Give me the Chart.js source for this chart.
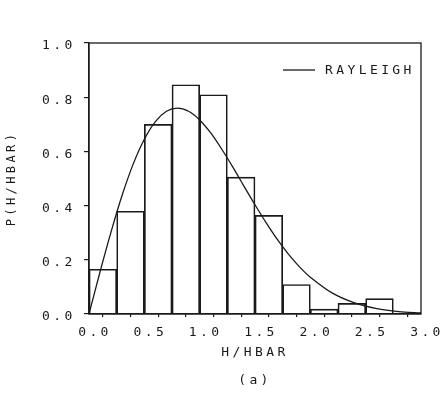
<!DOCTYPE html>
<html>
<head>
<meta charset="utf-8">
<script src="https://cdn.jsdelivr.net/npm/chart.js@4.4.0/dist/chart.umd.min.js"></script>
<style>
  html, body { margin: 0; padding: 0; background: #fff; }
  #wrap { width: 440px; height: 406px; }
</style>
</head>
<body>
<div id="wrap"><canvas id="histChart"></canvas></div>
<script>
// Histogram bins (centres of 0.25 wide bins) and measured probabilities
const binCentres = [0.125, 0.375, 0.625, 0.875, 1.125, 1.375, 1.625, 1.875, 2.125, 2.375, 2.625];
const binValues = [0.165, 0.379, 0.70, 0.846, 0.809, 0.505, 0.364, 0.109, 0.018, 0.039, 0.057];

// Rayleigh curve
const curveX = [0, 0.1, 0.2, 0.3, 0.4, 0.5, 0.6, 0.7, 0.8, 0.9, 1.0, 1.1, 1.2, 1.3, 1.4, 1.5,
  1.6, 1.7, 1.8, 1.9, 2.0, 2.2, 2.4, 2.6, 2.8, 3.0];
const curveY = [0, 0.156, 0.304, 0.439, 0.554, 0.645, 0.710, 0.748, 0.760, 0.748, 0.716, 0.668,
  0.608, 0.542, 0.472, 0.403, 0.337, 0.276, 0.222, 0.175, 0.136, 0.077, 0.041, 0.020, 0.009, 0.004];

const yTicks = [0, 0.2, 0.4, 0.6, 0.8, 1.0];
const xTickLabels = [0, 0.5, 1.0, 1.5, 2.0, 2.5, 3.0];

const ink = '#1a1a1a';
const monoFont = { family: 'DejaVu Sans Mono', size: 13 };
const spacing = '3.4px';

// letter spacing to mimic the plotter lettering
const spacingPlugin = {
  id: 'spacing',
  beforeUpdate(chart) { chart.ctx.letterSpacing = spacing; },
  beforeDraw(chart) { chart.ctx.letterSpacing = spacing; }
};

// box round the plotting area, plus the curve's key in the top right corner
const framePlugin = {
  id: 'frame',
  afterDraw(chart) {
    const { ctx, chartArea: a } = chart;
    ctx.save();
    ctx.strokeStyle = ink;
    ctx.lineWidth = 1.3;
    ctx.strokeRect(a.left, a.top, a.right - a.left, a.bottom - a.top);

    const ky = a.top + 27;
    ctx.beginPath();
    ctx.moveTo(a.right - 138, ky);
    ctx.lineTo(a.right - 106, ky);
    ctx.stroke();
    ctx.letterSpacing = spacing;
    ctx.fillStyle = ink;
    ctx.font = '13px "DejaVu Sans Mono"';
    ctx.textAlign = 'left';
    ctx.textBaseline = 'middle';
    ctx.fillText(chart.data.datasets[0].label, a.right - 96, ky + 1);
    ctx.restore();
  }
};

const ctx = document.getElementById('histChart').getContext('2d');

new Chart(ctx, {
  data: {
    datasets: [
      {
        type: 'line',
        label: 'RAYLEIGH',
        data: curveX.map((x, i) => ({ x: x, y: curveY[i] })),
        borderColor: ink,
        borderWidth: 1.3,
        pointRadius: 0,
        tension: 0.3,
        fill: false
      },
      {
        type: 'bar',
        label: 'histogram',
        data: binCentres.map((x, i) => ({ x: x, y: binValues[i] })),
        backgroundColor: 'rgba(0,0,0,0)',
        borderColor: ink,
        borderWidth: 1,
        borderSkipped: 'bottom',
        barPercentage: 1,
        categoryPercentage: 1
      }
    ]
  },
  options: {
    responsive: true,
    maintainAspectRatio: false,
    animation: false,
    devicePixelRatio: 1,
    layout: { padding: { top: 43, right: 19, left: 42, bottom: 0 } },
    scales: {
      x: {
        type: 'linear',
        min: 0,
        max: 3,
        offset: false,
        afterFit(scale) {
          scale.height = 92;
          scale.paddingLeft = 0;
          scale.paddingRight = 0;
        },
        afterBuildTicks(scale) {
          const t = [];
          for (let i = 0; i <= 12; i++) t.push({ value: i * 0.25 });
          scale.ticks = t;
        },
        ticks: {
          color: ink,
          font: monoFont,
          padding: 8,
          labelOffset: 6,
          maxRotation: 0,
          autoSkip: false,
          callback: function(v) {
            const hit = xTickLabels.find(l => Math.abs(l - v) < 1e-6);
            return hit === undefined ? '' : hit.toFixed(1);
          }
        },
        grid: { drawOnChartArea: false, color: ink, tickLength: 3, lineWidth: 1.2 },
        border: { color: ink, width: 1.3 },
        title: {
          display: true,
          text: ['H/HBAR', '(a)'],
          color: ink,
          font: { family: 'DejaVu Sans Mono', size: 13, lineHeight: 2.15 },
          padding: { top: 0, bottom: 11 }
        }
      },
      y: {
        type: 'linear',
        min: 0,
        max: 1,
        afterFit(scale) {
          scale.width = 47;
          scale.paddingTop = 0;
          scale.paddingBottom = 0;
        },
        afterBuildTicks(scale) { scale.ticks = yTicks.map(v => ({ value: v })); },
        ticks: {
          color: ink,
          font: monoFont,
          crossAlign: 'far',
          labelOffset: 3,
          callback: v => v.toFixed(1)
        },
        grid: { drawOnChartArea: false, color: ink, tickLength: 5, lineWidth: 1.2 },
        border: { color: ink, width: 1.3 },
        title: {
          display: true,
          text: 'P(H/HBAR)',
          color: ink,
          font: { family: 'DejaVu Sans Mono', size: 12 },
          padding: { top: -37, bottom: 0 }
        }
      }
    },
    plugins: {
      legend: { display: false },
      tooltip: { enabled: false },
      title: { display: false }
    }
  },
  plugins: [spacingPlugin, framePlugin]
});
</script>
</body>
</html>
